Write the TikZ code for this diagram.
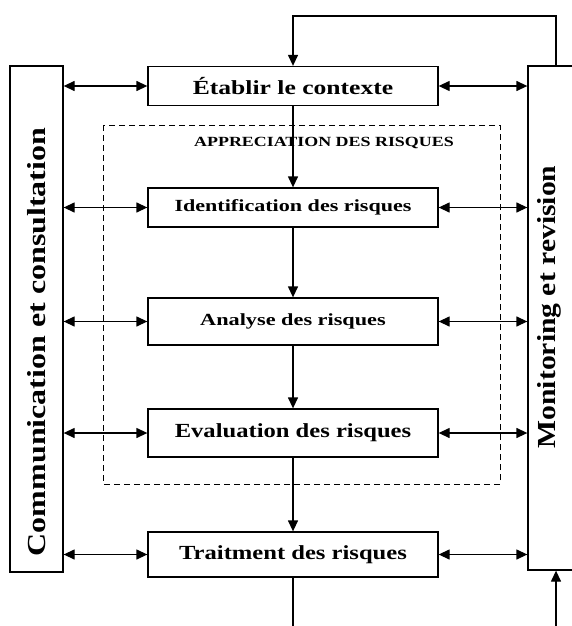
\documentclass[tikz,border=0pt]{standalone}
\usepackage{fontspec}
\setmainfont{Liberation Serif}
\usetikzlibrary{arrows.meta}
\newcommand{\wide}[2]{\scalebox{#1}[1]{#2}}
\begin{document}
\begin{tikzpicture}[x=1pt,y=-1pt,
  line width=1.3pt,
  tip/.style={-{Triangle[length=11pt,width=10pt]}},
  both/.style={{Triangle[length=11pt,width=10pt]}-{Triangle[length=11pt,width=10pt]}},
  stepbox/.style={draw,rectangle,minimum width=290pt,inner sep=0pt},
  sidebox/.style={draw,rectangle,inner sep=0pt},
  sidetext/.style={rotate=90,inner sep=0pt,font=\fontsize{26}{27}\selectfont\bfseries}]
\useasboundingbox (0,0) rectangle (572,626);
\clip (0,0) rectangle (572,626);

% side columns
\node[sidebox,minimum width=53pt,minimum height=506pt] (comm) at (36.5,319) {};
\node[sidetext] (commtxt) at (37,342) {\wide{1.23}{Communication et consultation}};
\node[sidebox,minimum width=46pt,minimum height=504pt] (mon) at (551,318) {};
\node[sidetext] (montxt) at (549,307) {\wide{1.14}{Monitoring et revision}};

% process steps
\node[stepbox,minimum height=39pt,font=\fontsize{20}{21}\selectfont\bfseries] (ctx) at (293,86) {\wide{1.28}{Établir le contexte}};
\node[stepbox,minimum height=39pt,font=\fontsize{17}{18}\selectfont\bfseries] (ident) at (293,207.5) {\wide{1.3}{Identification des risques}};
\node[stepbox,minimum height=47pt,font=\fontsize{17}{18}\selectfont\bfseries] (ana) at (293,321.5) {\wide{1.31}{Analyse des risques}};
\node[stepbox,minimum height=48pt,font=\fontsize{20}{21}\selectfont\bfseries] (eval) at (293,433) {\wide{1.23}{Evaluation des risques}};
\node[stepbox,minimum height=45pt,font=\fontsize{20}{21}\selectfont\bfseries] (trait) at (293,554.5) {\wide{1.23}{Traitment des risques}};

% risk assessment frame
\draw[line width=1pt,dash pattern=on 6pt off 4pt] (103,125) rectangle (500,484);
\node[font=\fontsize{14}{15}\selectfont\bfseries] (appr) at (324,143) {\wide{1.28}{APPRECIATION DES RISQUES}};

% main flow
\draw[tip] (ctx) -- (ident);
\draw[tip] (ident) -- (ana);
\draw[tip] (ana) -- (eval);
\draw[tip] (eval) -- (trait);

% feedback loop and open ends
\coordinate (topR) at (556,16);
\coordinate (botL) at (293,640);
\coordinate (botR) at (556,640);
\draw[tip] (mon.north -| topR) -- (topR) -| (ctx.north);
\draw (trait.south) -- (botL);
\draw[tip] (botR) -- (mon.south -| botR);

% exchanges with the side columns
\foreach \n in {ctx,ident,ana,eval,trait}{
  \draw[both] (comm.east |- \n.west) -- (\n.west);
  \draw[both] (\n.east) -- (mon.west |- \n.east);
}
\end{tikzpicture}
\end{document}
